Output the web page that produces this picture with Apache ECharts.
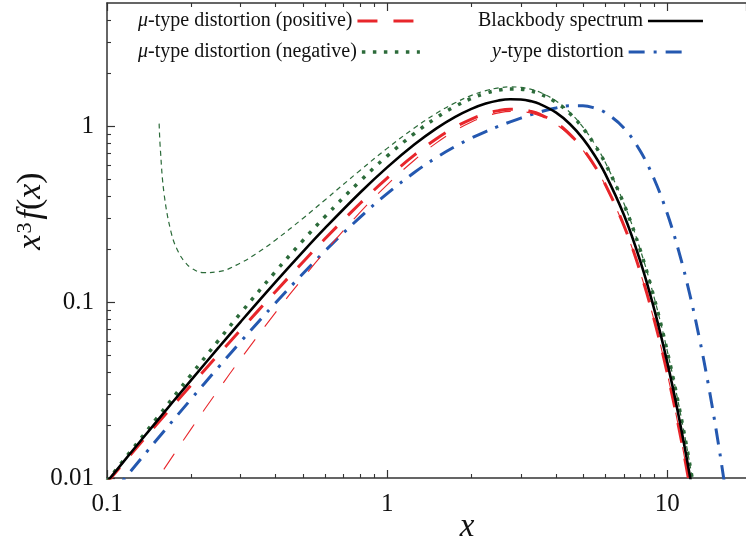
<!DOCTYPE html>
<html><head><meta charset="utf-8">
<script src="https://cdn.jsdelivr.net/npm/echarts@6/dist/echarts.min.js"></script>
<style>html,body{margin:0;padding:0;background:#fff}#c{width:746px;height:542px}</style>
</head><body><div id="c"></div>
<script>
// ---- data ----
const xs = [0.1, 0.12, 0.15, 0.2, 0.25, 0.3, 0.4, 0.5, 0.6, 0.8, 1, 1.25, 1.5, 1.75, 2, 2.25, 2.5, 2.75, 3, 3.25, 3.5, 4, 4.5, 5, 5.5, 6, 7, 8, 9, 10, 11, 12, 13];
const blackbody = [0.00951, 0.01355, 0.02086, 0.03613, 0.05501, 0.07717, 0.1301, 0.1927, 0.2627, 0.4178, 0.5820, 0.7843, 0.9694, 1.1272, 1.2521, 1.3420, 1.3973, 1.4203, 1.4147, 1.3847, 1.3350, 1.1941, 1.0237, 0.8480, 0.6827, 0.5367, 0.3131, 0.1718, 0.0900, 0.0454, 0.02223, 0.01062, 0.00497];
const muPositive = [0.00941, 0.01328, 0.02008, 0.03382, 0.05035, 0.06947, 0.1148, 0.1684, 0.2286, 0.3627, 0.5058, 0.6830, 0.8458, 0.9850, 1.0952, 1.1745, 1.2232, 1.2434, 1.2383, 1.2117, 1.1678, 1.0436, 0.8938, 0.7397, 0.5950, 0.4674, 0.2722, 0.1493, 0.0781, 0.03937, 0.01926, 0.00919, 0.0043];
const muPositiveStrong = [0.00352, 0.00558, 0.00965, 0.01909, 0.03177, 0.04751, 0.08728, 0.1365, 0.1934, 0.3229, 0.4634, 0.6393, 0.8022, 0.9426, 1.0547, 1.1364, 1.1878, 1.2110, 1.2088, 1.1852, 1.1441, 1.0251, 0.8797, 0.7292, 0.5873, 0.4618, 0.2694, 0.1479, 0.0774, 0.03908, 0.01913, 0.00914, 0.00427];
const muNegative = [0.00961, 0.01384, 0.02168, 0.03875, 0.06051, 0.0865, 0.1492, 0.2231, 0.3055, 0.4859, 0.6748, 0.9057, 1.1157, 1.2942, 1.4351, 1.5364, 1.5985, 1.6243, 1.6177, 1.5836, 1.5270, 1.3667, 1.1726, 0.9722, 0.7834, 0.6164, 0.3600, 0.1979, 0.1037, 0.05237, 0.02566, 0.01226, 0.00574];
const muNegativeStrongX = [0.1535, 0.155, 0.16, 0.17, 0.18, 0.19, 0.2, 0.22, 0.25, 0.3, 0.35, 0.4, 0.5, 0.6, 0.8, 1, 1.25, 1.5, 1.75, 2, 2.25, 2.5, 2.75, 3, 3.25, 3.5, 4, 4.5, 5, 5.5, 6, 7, 8, 9, 10, 11, 12, 13];
const muNegativeStrong = [1.032, 0.743, 0.4076, 0.2432, 0.1915, 0.1681, 0.1560, 0.1469, 0.1486, 0.1668, 0.1937, 0.2253, 0.2983, 0.3801, 0.5592, 0.7465, 0.9745, 1.1811, 1.3558, 1.4926, 1.5895, 1.6472, 1.6686, 1.6577, 1.6194, 1.5589, 1.3915, 1.1915, 0.9863, 0.7937, 0.6239, 0.3638, 0.1996, 0.1045, 0.05275, 0.02583, 0.01234, 0.00577];
const yTypeX = [0.1, 0.12, 0.15, 0.2, 0.25, 0.3, 0.4, 0.5, 0.6, 0.8, 1, 1.25, 1.5, 1.75, 2, 2.25, 2.5, 2.75, 3, 3.25, 3.5, 4, 4.5, 5, 5.5, 6, 7, 8, 9, 10, 11, 12, 13, 14, 15, 16, 17];
const yType = [0.00751, 0.01068, 0.01637, 0.02819, 0.04264, 0.05944, 0.09897, 0.1447, 0.1949, 0.3028, 0.4129, 0.5444, 0.6627, 0.7658, 0.8542, 0.9303, 0.9966, 1.0555, 1.1085, 1.1564, 1.1991, 1.2667, 1.3037, 1.3038, 1.2653, 1.1921, 0.9739, 0.7225, 0.4951, 0.3179, 0.1934, 0.1125, 0.06307, 0.03423, 0.01807, 0.00931, 0.00470];

const xMinorTicks = [0.2, 0.3, 0.4, 0.5, 0.6, 0.7, 0.8, 0.9, 2, 3, 4, 5, 6, 7, 8, 9];
const yMinorTicks = [0.02, 0.03, 0.04, 0.05, 0.06, 0.07, 0.08, 0.09, 0.2, 0.3, 0.4, 0.5, 0.6, 0.7, 0.8, 0.9, 2, 3, 4];

const NAME_POS = 'μ-type distortion (positive)';
const NAME_BB = 'Blackbody spectrum';
const NAME_NEG = 'μ-type distortion (negative)';
const NAME_Y = 'y-type distortion';

// ---- chart ----
const X_MIN = 0.1, X_MAX = 19.1, Y_MIN = 0.01, Y_MAX = 5;
const serif = '"Liberation Serif", "DejaVu Serif", serif';
const axisColor = '#333';
const RED = '#e8262b', GREEN = '#2c6b3a', BLUE = '#2458b0';
const pair = (x, y) => x.map((v, i) => [v, y[i]]);
const fmt = v => String(+(+v).toPrecision(6));

const STYLE = {
  bb: { color: '#000', width: 2.6, type: 'solid' },
  pos: { color: RED, width: 3, type: [20, 16] },
  posStrong: { color: RED, width: 1.1, type: [19, 16] },
  neg: { color: GREEN, width: 3.5, type: [3.5, 7.5] },
  negStrong: { color: GREEN, width: 1.2, type: [5, 4] },
  y: { color: BLUE, width: 3, type: [16, 9, 3, 9] }
};

function line(name, data, st, z) {
  return {
    type: 'line', name, data, xAxisIndex: 0, yAxisIndex: 0,
    symbol: 'none', showSymbol: false, smooth: 0.4,
    lineStyle: { color: st.color, width: st.width, type: st.type, cap: 'butt' }, itemStyle: { color: st.color },
    z, silent: true, clip: true
  };
}

const hidden = { show: false };
function majorX(pos, labels) {
  return {
    type: 'log', logBase: 10, min: X_MIN, max: X_MAX, position: pos,
    axisLine: { show: true, onZero: false, lineStyle: { color: axisColor, width: 1.5 } },
    axisTick: { show: true, inside: true, length: 8, lineStyle: { color: axisColor, width: 1.2 } },
    axisLabel: labels ? { show: true, fontFamily: serif, fontSize: 25, color: '#111', margin: 14, showMaxLabel: false, formatter: fmt } : hidden,
    splitLine: hidden, minorTick: hidden
  };
}
function minorAxis(pos, lo, hi, ticks) {
  return {
    type: 'value', min: Math.log10(lo), max: Math.log10(hi), position: pos,
    axisLine: { show: false, onZero: false },
    axisTick: { show: true, inside: true, length: 4, customValues: ticks.map(Math.log10), lineStyle: { color: axisColor, width: 1.1 } },
    axisLabel: hidden, splitLine: hidden
  };
}

const legendText = { fontFamily: serif, fontSize: 20, color: '#111', rich: { i: { fontFamily: serif, fontSize: 20, fontStyle: 'italic', color: '#111' } } };
function legend(name, st, left, top, textWidth, itemWidth) {
  return {
    data: [name], left, top, orient: 'horizontal', align: 'right', selectedMode: false,
    itemWidth, itemHeight: 12, padding: 0,
    itemStyle: { opacity: 0 },
    lineStyle: { width: st.width, type: st.type, color: st.color, cap: 'butt' },
    textStyle: Object.assign({ width: textWidth }, legendText),
    formatter: n => n.replace(/^μ/, '{i|μ}').replace(/^y/, '{i|y}')
  };
}

const chart = echarts.init(document.getElementById('c'), null, { renderer: 'canvas' });
chart.setOption({
  animation: false,
  backgroundColor: '#fff',
  grid: { left: 107, right: 0, top: 3, bottom: 64, containLabel: false, outerBoundsMode: 'none' },
  legend: [
    legend(NAME_POS, STYLE.pos, 138, 11, 245, 56),
    legend(NAME_BB, STYLE.bb, 478, 11, 186, 55),
    legend(NAME_NEG, STYLE.neg, 138, 42, 245, 58),
    legend(NAME_Y, STYLE.y, 492, 42, 176, 54)
  ],
  xAxis: [
    majorX('bottom', true),
    majorX('top', false),
    minorAxis('bottom', X_MIN, X_MAX, xMinorTicks),
    minorAxis('top', X_MIN, X_MAX, xMinorTicks)
  ],
  yAxis: [
    {
      type: 'log', logBase: 10, min: Y_MIN, max: Y_MAX, position: 'left',
      axisLine: { show: true, onZero: false, lineStyle: { color: axisColor, width: 1.5 } },
      axisTick: { show: true, inside: true, length: 8, lineStyle: { color: axisColor, width: 1.2 } },
      axisLabel: { fontFamily: serif, fontSize: 25, color: '#111', margin: 13, showMaxLabel: false, formatter: fmt },
      splitLine: hidden, minorTick: hidden
    },
    minorAxis('left', Y_MIN, Y_MAX, yMinorTicks)
  ],
  graphic: [
    { type: 'text', x: 467, y: 527, silent: true,
      style: { text: 'x', fontFamily: serif, fontSize: 33, fontStyle: 'italic', fill: '#111', align: 'center', verticalAlign: 'middle' } },
    { type: 'text', x: 31, y: 211, rotation: Math.PI / 2, silent: true,
      style: { text: '{i|x}{s|3}{i|f}{n|(}{i|x}{n|)}', align: 'center', verticalAlign: 'middle', fill: '#111',
        rich: {
          i: { fontFamily: serif, fontSize: 34, fontStyle: 'italic', fill: '#111', verticalAlign: 'bottom' },
          n: { fontFamily: serif, fontSize: 34, fill: '#111', verticalAlign: 'bottom' },
          s: { fontFamily: serif, fontSize: 22, fill: '#111', verticalAlign: 'top', padding: [0, 3, 0, 1] }
        } } }
  ],
  series: [
    line(NAME_BB, pair(xs, blackbody), STYLE.bb, 5),
    line(NAME_POS, pair(xs, muPositive), STYLE.pos, 4),
    line('μ positive (constant)', pair(xs, muPositiveStrong), STYLE.posStrong, 4),
    line(NAME_NEG, pair(xs, muNegative), STYLE.neg, 3),
    line('μ negative (constant)', pair(muNegativeStrongX, muNegativeStrong), STYLE.negStrong, 3),
    line(NAME_Y, pair(yTypeX, yType), STYLE.y, 2)
  ]
});
</script>
</body></html>
